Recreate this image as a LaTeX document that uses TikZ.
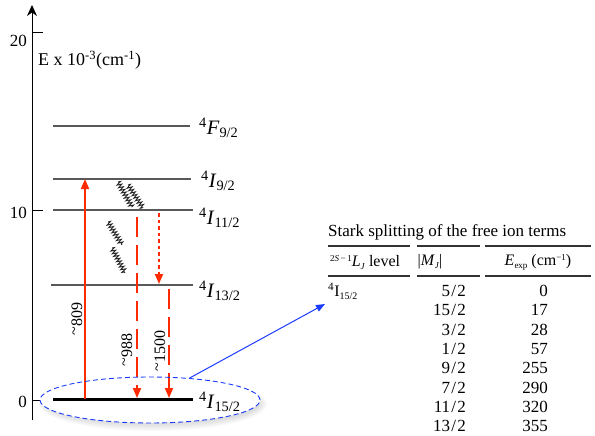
\documentclass[tikz,border=0pt]{standalone}
\usepackage{fontspec}
\setmainfont{Liberation Serif}
\usetikzlibrary{arrows.meta,decorations.pathmorphing,shapes.geometric}
\definecolor{myred}{HTML}{FF2A00}
\definecolor{myblue}{HTML}{1A3CFF}
\newcommand{\fr}[2]{#1\kern1.2pt/\kern1.2pt#2}
\begin{document}
\begin{tikzpicture}[x=1pt,y=-1pt,
  lvlline/.style={draw=black!65, line width=1.3pt},
  lvllab/.style={anchor=west, inner sep=0pt, font=\fontsize{20.5}{20.5}\selectfont},
  axlab/.style={anchor=east, inner sep=0pt, font=\fontsize{17}{17}\selectfont},
  redup/.style={draw=myred, line width=1.8pt, -{Triangle[length=10pt,width=8pt]}},
  reddash/.style={redup, dash pattern=on 20pt off 8pt},
  reddot/.style={redup, dash pattern=on 3.5pt off 3pt},
  wav/.style={draw=black!85, line width=0.9pt, decorate, decoration={zigzag, segment length=3pt, amplitude=2.4pt}},
  trlab/.style={rotate=90, inner sep=0pt, font=\fontsize{16}{16}\selectfont},
  tabtxt/.style={inner sep=0pt, font=\fontsize{16}{16}\selectfont},
  numtxt/.style={inner sep=0pt, font=\fontsize{17}{17}\selectfont},
  rule/.style={draw=black!80, line width=1.2pt}
]
\useasboundingbox (0,0) rectangle (595,436);

% axis
\draw[line width=0.9pt, -{Stealth[length=11pt,width=10pt]}] (32,420) -- (32,5);
\draw[line width=0.9pt] (32,32) -- (43,32);
\draw[line width=0.9pt] (32,210) -- (43,210);
\draw[line width=0.9pt] (32,400) -- (43,400);
\node[axlab] (t20) at (27,41) {20};
\node[axlab] (t10) at (27,213) {10};
\node[axlab] (t0) at (27,402) {0};
\node[anchor=west, inner sep=0pt, font=\fontsize{18}{18}\selectfont] (elab) at (38,60) {E x 10\textsuperscript{-3}(cm\textsuperscript{-1})};

% ellipse shadow
\foreach \i in {0,...,7}
  \fill[black, opacity=0.022] (153,404) ellipse [x radius={(114-\i*1.6)*1pt}, y radius={(27-\i*1.4)*1pt}];
\fill[white] (150,400) ellipse [x radius=110pt, y radius=23pt];

% levels
\draw[lvlline] (53,126) coordinate (F1) -- (190,126) coordinate (F2);
\draw[lvlline] (53,179) coordinate (A1) -- (191,179) coordinate (A2);
\draw[lvlline] (53,210) coordinate (B1) -- (193,210) coordinate (B2);
\draw[lvlline] (51,285) coordinate (C1) -- (193,285) coordinate (C2);
\draw[draw=black, line width=3pt] (53,399) coordinate (G1) -- (193,399) coordinate (G2);

\node[lvllab] (lF) at (199,128) {\textsuperscript{4}\textit{F}\textsubscript{9/2}};
\node[lvllab] (lA) at (201,181) {\textsuperscript{4}\textit{I}\textsubscript{9/2}};
\node[lvllab] (lB) at (199,218) {\textsuperscript{4}\textit{I}\textsubscript{11/2}};
\node[lvllab] (lC) at (199,291) {\textsuperscript{4}\textit{I}\textsubscript{13/2}};
\node[lvllab] (lG) at (199,402) {\textsuperscript{4}\textit{I}\textsubscript{15/2}};

% transitions
\coordinate (u0) at (85,399); \coordinate (u1) at (85,179);
\draw[redup] (u0) -- (u1);
\coordinate (d0) at (137,217); \coordinate (d1) at (137,398);
\draw[reddash] (d0) -- (d1);
\coordinate (e0) at (159,213); \coordinate (e1) at (159,284);
\draw[reddot] (e0) -- (e1);
\coordinate (f0) at (169,289); \coordinate (f1) at (169,398);
\draw[reddash] (f0) -- (f1);

\node[trlab] (n809) at (77,319) {\raisebox{3pt}{\textasciitilde}809};
\node[trlab] (n988) at (127,350) {\raisebox{3pt}{\textasciitilde}988};
\node[trlab] (n1500) at (160,351) {\raisebox{3pt}{\textasciitilde}1500};

% nonradiative
\draw[wav] (118,182) -- (132,207);
\draw[wav] (128,185) -- (143,208);
\draw[wav] (108,222) -- (122,245);
\draw[wav] (112,248) -- (125,273);

% ellipse
\node[ellipse, draw=myblue, line width=0.9pt, dash pattern=on 5pt off 3pt, minimum width=220pt, minimum height=46pt, inner sep=0pt] (ell) at (150,400) {};
\coordinate (tabpt) at (325,304);
\draw[draw=myblue, line width=1pt, -{Triangle[length=9pt,width=7pt]}] (ell.29) -- (tabpt);

% table
\node[anchor=west, inner sep=0pt, font=\fontsize{17}{17}\selectfont] (title) at (328,232) {Stark splitting of the free ion terms};
\draw[rule] (328,246) -- (410,246);
\draw[rule] (417,246) -- (480,246);
\draw[rule] (485,246) -- (591,246);
\draw[rule] (328,276) -- (410,276);
\draw[rule] (417,276) -- (480,276);
\draw[rule] (485,276) -- (591,276);
\node[tabtxt, anchor=west] (h1) at (330,262) {\raisebox{5pt}{\fontsize{9}{9}\selectfont 2\textit{S}\,−\,1}\textit{L}\raisebox{-3pt}{\fontsize{9}{9}\selectfont\textit{J}} level};
\node[tabtxt] (h2) at (430,262) {|\textit{M}\raisebox{-3pt}{\fontsize{9}{9}\selectfont\textit{J}}|};
\node[tabtxt] (h3) at (538,262) {\textit{E}\raisebox{-3pt}{\fontsize{9}{9}\selectfont exp} (cm\raisebox{5pt}{\fontsize{9}{9}\selectfont −1})};
\node[tabtxt, anchor=west] (r0) at (328,291) {\textsuperscript{4}I\raisebox{-3pt}{\fontsize{10}{10}\selectfont 15/2}};

\foreach \a/\b/\e/\y [count=\k] in {5/2/0/291, 15/2/17/310, 3/2/28/329.5, 1/2/57/349, 9/2/255/368, 7/2/290/387.5, 11/2/320/406.5, 13/2/355/425.5}{
  \node[numtxt, anchor=east] (m\k) at (466,\y) {\fr{\a}{\b}};
  \node[numtxt, anchor=east] (v\k) at (548,\y) {\e};
}
\end{tikzpicture}
\end{document}
